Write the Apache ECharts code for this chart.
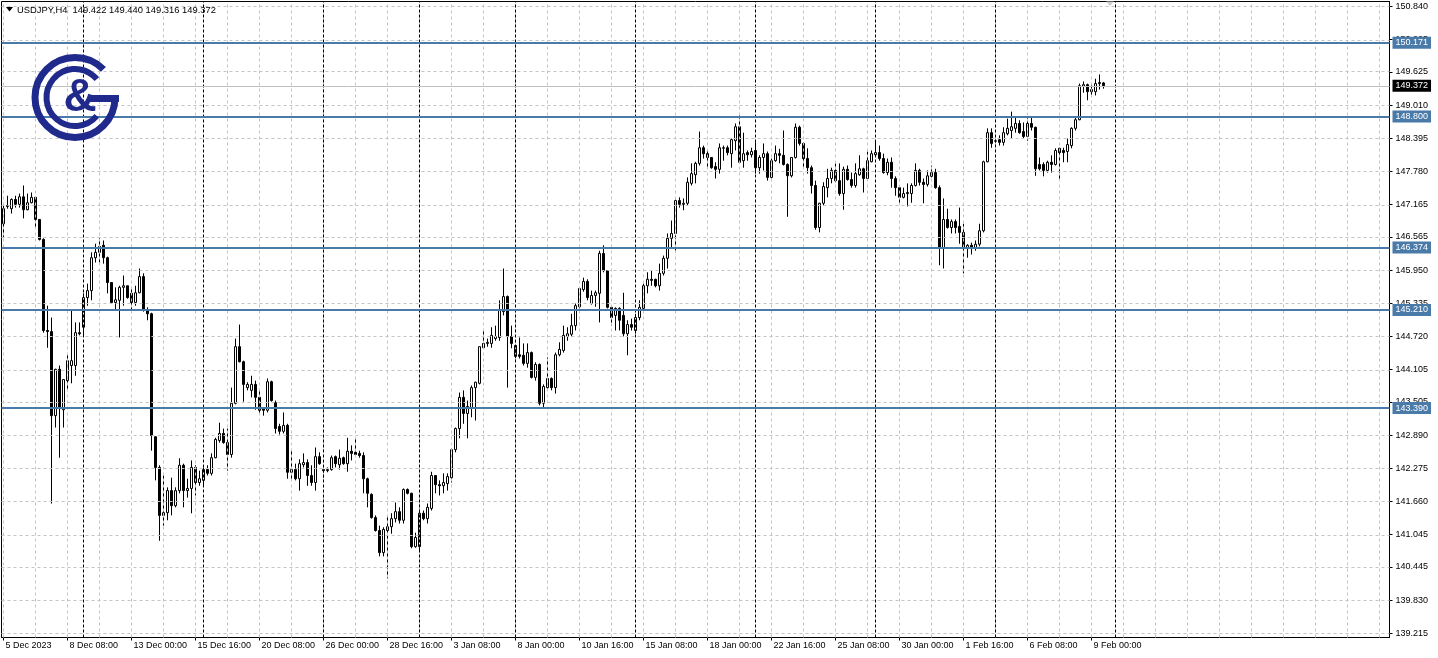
<!DOCTYPE html>
<html><head><meta charset="utf-8">
<script src="https://cdn.jsdelivr.net/npm/echarts@6/dist/echarts.min.js"></script>
<style>html,body{margin:0;padding:0;background:#fff;}#c{width:1438px;height:658px;}</style>
</head><body><div id="c"></div>
<script>
// ---- data: H4 candles [open, close, low, high] ----
const wk1 = [[146.81,147.09,146.55,147.19],[147.13,147.15,147.09,147.33],[147.09,147.26,147.00,147.28],[147.26,147.17,147.11,147.33],[147.17,147.31,147.11,147.37],[147.31,147.07,146.91,147.52],[147.07,147.20,147.06,147.37],[147.20,147.30,147.19,147.39],[147.30,146.89,146.74,147.31],[146.89,146.52,146.50,146.89],[146.52,144.83,144.79,146.54],[144.83,144.81,144.51,145.29],[144.81,143.25,141.62,145.07],[143.25,144.11,143.03,144.12],[144.11,143.38,142.47,144.18],[143.36,143.92,143.03,143.93],[143.90,144.27,143.72,144.40],[144.18,144.27,143.85,145.20],[144.18,144.79,143.99,144.98],[144.79,144.77,144.74,144.98]];
const wk2 = [[144.89,145.44,144.74,145.52],[145.44,145.57,145.29,145.70],[145.57,146.18,145.39,146.28],[146.18,146.28,146.09,146.44],[146.28,146.39,146.09,146.55],[146.41,146.18,146.07,146.50],[146.18,145.72,145.52,146.20],[145.72,145.35,145.33,145.72],[145.35,145.40,145.20,145.63],[145.39,145.63,144.70,145.66],[145.63,145.66,145.29,145.85],[145.66,145.44,145.42,145.66],[145.52,145.35,145.16,145.61],[145.35,145.53,145.29,145.66],[145.53,145.83,145.52,145.98],[145.83,145.20,145.18,145.89],[145.20,145.14,145.02,145.26],[145.14,142.88,142.60,145.16],[142.86,142.29,142.05,142.86],[142.29,141.40,140.93,142.33],[141.40,141.45,141.21,142.14],[141.45,141.86,141.31,141.92],[141.86,141.58,141.40,142.10],[141.58,141.86,141.55,141.92],[141.86,142.33,141.81,142.46],[142.33,141.86,141.55,142.36],[141.86,141.90,141.73,142.08],[141.90,142.29,141.44,142.42],[142.29,142.01,141.77,142.33],[142.01,142.08,141.95,142.23]];
const wk3 = [[142.05,142.25,141.95,142.29],[142.25,142.18,142.14,142.33],[142.18,142.47,142.14,142.55],[142.47,142.81,142.46,142.84],[142.79,142.92,142.75,143.12],[142.92,142.75,142.73,143.01],[142.75,142.53,142.23,143.01],[142.53,143.48,142.47,143.77],[143.48,144.53,143.46,144.68],[144.53,144.25,144.24,144.94],[144.25,143.83,143.51,144.27],[143.77,143.83,143.72,143.87],[143.72,143.83,143.59,143.99],[143.83,143.59,143.36,143.90],[143.59,143.35,143.29,143.74],[143.40,143.35,143.25,143.40],[143.35,143.88,143.31,143.94],[143.88,143.53,143.51,143.90],[143.49,143.01,142.92,143.53],[143.05,142.96,142.90,143.10],[142.96,143.07,142.92,143.31],[143.07,142.20,142.08,143.10],[142.20,142.25,142.05,142.60],[142.25,142.08,142.05,142.36],[142.08,142.36,141.86,142.44],[142.34,142.38,142.29,142.55],[142.38,142.14,141.95,142.44],[142.14,142.01,141.95,142.33],[142.01,142.49,141.86,142.66],[142.49,142.36,142.34,142.57]];
const wk4 = [[142.25,142.23,142.10,142.33],[142.23,142.25,142.20,142.29],[142.25,142.47,142.23,142.51],[142.49,142.36,142.29,142.51],[142.34,142.46,142.25,142.62],[142.47,142.36,142.34,142.49],[142.36,142.59,142.21,142.84],[142.59,142.55,142.42,142.70],[142.57,142.53,142.51,142.83],[142.55,142.51,142.47,142.60],[142.51,142.08,141.81,142.57],[142.08,141.81,141.55,142.10],[141.79,141.36,141.34,141.81],[141.36,141.12,141.10,141.40],[141.12,140.71,140.64,141.21],[140.71,141.14,140.64,141.18],[141.12,141.19,140.23,141.40],[141.19,141.34,141.06,141.44],[141.34,141.47,141.27,141.64],[141.47,141.31,141.25,141.55],[141.31,141.88,141.25,141.90],[141.88,141.81,141.79,141.90],[141.81,140.82,140.79,141.82],[140.82,140.99,140.80,141.08]];
const wk5 = [[140.82,141.44,140.75,141.53],[141.44,141.34,141.31,141.49],[141.34,141.55,141.25,141.62],[141.53,142.14,141.49,142.21],[142.14,141.97,141.81,142.14],[141.97,141.95,141.77,142.05],[141.95,142.01,141.81,142.18],[141.99,142.12,141.86,142.18],[142.10,142.62,142.01,142.64],[142.62,143.01,142.57,143.03],[143.01,143.59,142.83,143.68],[143.59,143.29,143.10,143.72],[143.29,143.42,142.83,143.53],[143.40,143.77,143.22,143.81],[143.77,143.87,143.16,143.88],[143.85,144.53,143.83,144.53],[144.51,144.59,144.50,144.85],[144.59,144.61,144.53,144.68],[144.59,144.74,144.51,144.89],[144.68,144.72,144.64,144.92],[144.70,145.20,144.64,145.39],[145.18,145.46,145.11,145.98],[145.46,144.72,143.77,145.48],[144.72,144.59,144.50,144.92]];
const wk6 = [[144.55,144.35,144.31,144.55],[144.38,144.35,144.31,144.70],[144.37,144.22,144.18,144.59],[144.22,144.42,144.14,144.59],[144.42,143.96,143.94,144.44],[143.96,144.20,143.90,144.24],[144.20,143.48,143.44,144.22],[143.48,143.79,143.40,143.83],[143.77,143.94,143.75,144.33],[143.94,143.77,143.72,143.96],[143.77,144.38,143.66,144.42],[144.38,144.48,144.35,144.61],[144.46,144.74,144.42,144.92],[144.72,144.77,144.64,144.89],[144.76,144.92,144.72,145.14],[144.92,145.29,144.83,145.33],[145.27,145.61,145.24,145.63],[145.59,145.74,145.55,145.81],[145.74,145.44,145.39,145.78],[145.33,145.48,145.31,145.57],[145.48,145.53,145.27,145.57],[145.52,146.26,144.98,146.31],[146.26,145.94,145.91,146.41],[145.94,145.26,145.24,145.94],[145.26,145.07,144.92,145.29],[145.11,145.24,144.83,145.26],[145.24,145.02,144.83,145.26],[145.11,144.77,144.72,145.53],[144.77,144.94,144.37,145.02],[144.94,144.89,144.83,145.05]];
const wk7 = [[144.83,145.07,144.77,145.14],[145.07,145.26,145.02,145.39],[145.24,145.66,145.16,145.70],[145.66,145.78,145.52,145.91],[145.78,145.76,145.66,145.94],[145.78,145.66,145.63,145.79],[145.66,145.89,145.57,146.07],[145.89,146.17,145.85,146.22],[146.17,146.54,145.98,146.63],[146.54,146.63,146.35,146.87],[146.63,147.24,146.31,147.26],[147.24,147.17,147.11,147.30],[147.17,147.19,147.06,147.28],[147.19,147.58,147.15,147.67],[147.56,147.74,147.52,147.93],[147.72,147.93,147.56,147.96],[147.93,148.22,147.89,148.52],[148.22,148.11,148.02,148.26],[148.11,148.04,147.85,148.19],[148.04,147.85,147.83,148.04],[147.87,147.82,147.65,147.95],[147.82,148.22,147.74,148.30],[148.21,148.22,147.98,148.26],[148.22,148.13,148.08,148.26],[148.11,148.37,147.85,148.39],[148.35,148.61,148.17,148.67],[148.61,147.95,147.93,148.82],[147.98,148.11,147.85,148.50],[148.13,148.09,147.98,148.17],[148.09,148.15,148.04,148.22]];
const wk8 = [[148.17,147.85,147.74,148.32],[147.85,148.04,147.74,148.08],[148.04,148.11,147.80,148.30],[148.11,147.67,147.61,148.15],[147.67,147.98,147.65,148.02],[147.98,148.11,147.96,148.26],[148.11,148.08,147.93,148.20],[148.08,147.91,147.89,148.54],[147.91,147.70,146.94,147.93],[147.70,148.04,147.67,148.04],[148.04,148.60,148.02,148.67],[148.60,148.30,148.26,148.63],[148.30,148.02,147.85,148.32],[148.02,147.85,147.74,148.21],[147.85,147.52,147.37,147.89],[147.52,146.74,146.70,147.61],[146.74,147.19,146.65,147.20],[147.19,147.50,147.15,147.58],[147.48,147.65,147.30,147.83],[147.65,147.80,147.56,147.85],[147.80,147.61,147.58,147.93],[147.61,147.37,147.33,147.93],[147.37,147.82,147.07,147.87],[147.82,147.63,147.61,147.89],[147.63,147.52,147.48,147.76],[147.52,147.74,147.48,147.93],[147.72,147.83,147.70,148.08],[147.83,147.65,147.39,147.85],[147.65,147.98,147.61,148.15],[147.96,148.11,147.95,148.17]];
const wk9 = [[148.09,148.13,148.08,148.34],[148.13,148.02,147.98,148.26],[148.02,147.76,147.74,148.11],[147.76,147.95,147.71,148.02],[147.95,147.65,147.48,148.04],[147.65,147.48,147.33,147.69],[147.48,147.30,147.19,147.52],[147.30,147.37,147.28,147.48],[147.37,147.39,147.13,147.56],[147.37,147.52,147.20,147.56],[147.52,147.80,147.50,147.93],[147.80,147.58,147.52,147.83],[147.58,147.54,147.19,147.65],[147.54,147.70,147.50,147.80],[147.69,147.76,147.67,147.89],[147.76,147.48,147.46,147.83],[147.48,146.35,146.04,147.52],[146.35,146.89,145.98,147.28],[146.89,146.74,146.72,147.09],[146.74,146.85,146.63,146.89],[146.85,146.74,146.63,146.89],[146.76,146.65,146.44,147.11],[146.65,146.35,145.89,146.81],[146.35,146.41,146.18,146.43],[146.41,146.35,146.24,146.46],[146.35,146.43,146.31,146.50],[146.43,146.68,146.39,146.81],[146.68,147.96,146.65,147.98],[147.96,148.50,147.95,148.58],[148.50,148.30,148.22,148.58]];
const wk10 = [[148.34,148.35,148.24,148.45],[148.37,148.32,148.26,148.45],[148.32,148.50,148.26,148.60],[148.48,148.58,148.45,148.76],[148.54,148.61,148.39,148.89],[148.58,148.67,148.50,148.78],[148.67,148.50,148.48,148.73],[148.52,148.43,148.39,148.69],[148.43,148.67,148.35,148.78],[148.67,148.60,148.54,148.78],[148.60,147.83,147.70,148.61],[147.91,147.83,147.80,148.04],[147.91,147.80,147.69,147.95],[147.80,147.95,147.76,147.98],[147.95,147.91,147.76,148.08],[147.91,148.17,147.89,148.21],[148.21,148.13,147.63,148.22],[148.17,148.13,147.95,148.22],[148.15,148.28,147.95,148.39],[148.26,148.58,148.21,148.60],[148.58,148.74,148.54,148.78],[148.74,149.37,148.73,149.41],[149.36,149.39,149.24,149.45],[149.39,149.26,149.10,149.41],[149.26,149.30,149.19,149.41],[149.26,149.41,149.19,149.50],[149.41,149.43,149.30,149.58],[149.422,149.372,149.316,149.440]];

const tradingDays = ['5 Dec','6 Dec','7 Dec','8 Dec','11 Dec','12 Dec','13 Dec','14 Dec','15 Dec','18 Dec','19 Dec','20 Dec','21 Dec','22 Dec','26 Dec','27 Dec','28 Dec','29 Dec','2 Jan','3 Jan','4 Jan','5 Jan','8 Jan','9 Jan','10 Jan','11 Jan','12 Jan','15 Jan','16 Jan','17 Jan','18 Jan','19 Jan','22 Jan','23 Jan','24 Jan','25 Jan','26 Jan','29 Jan','30 Jan','31 Jan','1 Feb','2 Feb','5 Feb','6 Feb','7 Feb','8 Feb','9 Feb','12 Feb','13 Feb','14 Feb','15 Feb','16 Feb','19 Feb','20 Feb','21 Feb','22 Feb','23 Feb','26 Feb','27 Feb'];
const xTickLabels = ['5 Dec 2023','8 Dec 08:00','13 Dec 00:00','15 Dec 16:00','20 Dec 08:00','26 Dec 00:00','28 Dec 16:00','3 Jan 08:00','8 Jan 00:00','10 Jan 16:00','15 Jan 08:00','18 Jan 00:00','22 Jan 16:00','25 Jan 08:00','30 Jan 00:00','1 Feb 16:00','6 Feb 08:00','9 Feb 00:00'];
const yTickLabels = [150.840,150.225,149.625,149.010,148.395,147.780,147.165,146.565,145.950,145.335,144.720,144.105,143.505,142.890,142.275,141.660,141.045,140.445,139.830,139.215];
const levels = [150.171,148.800,146.374,145.210,143.390];
const lastPrice = 149.372;
const weekStarts = [20,50,80,104,128,158,188,218,248,278];
const title = 'USDJPY,H4  149.422 149.440 149.316 149.372';

// ---- build ----
const ohlc = [].concat(wk1,wk2,wk3,wk4,wk5,wk6,wk7,wk8,wk9,wk10);
const N = 347;
const categories = [];
tradingDays.forEach((d, k) => {
  for (let h = (k === 0 ? 16 : 0); h < 24; h += 4) categories.push(d + ' ' + String(h).padStart(2,'0') + ':00');
});
categories.length = N;

const FONT = '"Liberation Sans", Arial, sans-serif';
const gridLines = [];
for (let i = 0; i < N - 2; i += 8) gridLines.push({xAxis: i, lineStyle:{color:'#c4c4c4', type:[3,3], width:1}});
yTickLabels.forEach(v => gridLines.push({yAxis: v, lineStyle:{color:'#c4c4c4', type:[3,3], width:1}}));
weekStarts.forEach(i => gridLines.push({xAxis: i, lineStyle:{color:'#000', type:[3,2], width:1}}));
gridLines.push({yAxis: lastPrice, lineStyle:{color:'#c0c0c0', type:'solid', width:1},
  label:{show:true, position:'end', formatter: lastPrice.toFixed(3), color:'#fff', backgroundColor:'#000', padding:[2,3,1,3], fontSize:9, fontFamily:FONT, distance:3}});

const levelLines = levels.map(v => ({yAxis: v, lineStyle:{color:'#4a7aa8', type:'solid', width:2},
  label:{show:true, position:'end', formatter: v.toFixed(3), color:'#fff', backgroundColor:'#4a7aa8', padding:[2,3,1,3], fontSize:9, fontFamily:FONT, distance:3}}));

const navy = '#1f2a8c';
const chart = echarts.init(document.getElementById('c'), null, {renderer:'canvas'});
chart.setOption({
  animation:false,
  backgroundColor:'#fff',
  grid:{left:1.5, top:1.5, width:1388, height:636, show:true, borderColor:'#000', borderWidth:1},
  xAxis:{type:'category', data:categories, boundaryGap:true,
    axisLine:{show:true, lineStyle:{color:'#000'}},
    axisTick:{show:true, alignWithLabel:true, length:3, interval:(i)=> i % 16 === 0 && i <= 272, lineStyle:{color:'#000'}},
    axisLabel:{interval:(i)=> i % 16 === 0 && i <= 272, formatter:(v,i)=> xTickLabels[i/16] || '', align:'left',
      color:'#000', fontSize:9, fontFamily:FONT, margin:4, padding:[0,0,0,2]},
    splitLine:{show:false}},
  yAxis:{type:'value', position:'right', min:139.135, max:150.933,
    axisLine:{show:true, lineStyle:{color:'#000'}},
    axisTick:{show:true, customValues:yTickLabels, length:3, lineStyle:{color:'#000'}},
    axisLabel:{customValues:yTickLabels, formatter:(v)=> v.toFixed(3), color:'#000', fontSize:9, fontFamily:FONT, margin:6, padding:[3,0,0,0]},
    splitLine:{show:false}},
  series:[
    {type:'line', data:[], z:1, silent:true,
      markLine:{silent:true, symbol:['none','none'], animation:false, label:{show:false}, data:gridLines}},
    {type:'candlestick', data:ohlc, z:2, silent:true, barWidth:2,
      itemStyle:{color:'#fff', color0:'#000', borderColor:'#000', borderColor0:'#000', borderColorDoji:'#000', borderWidth:1}},
    {type:'line', data:[], z:3, silent:true,
      markLine:{silent:true, symbol:['none','none'], animation:false, data:levelLines}}
  ],
  graphic:{elements:[
    {type:'arc', z:100, zlevel:1, silent:true, shape:{cx:75, cy:97.5, r:40, startAngle:0, endAngle:Math.PI*2-0.78, clockwise:true}, style:{stroke:navy, lineWidth:7, fill:null}},
    {type:'arc', z:100, zlevel:1, silent:true, shape:{cx:75, cy:97.5, r:28.5, startAngle:0.70, endAngle:Math.PI*2-0.70, clockwise:true}, style:{stroke:navy, lineWidth:6, fill:null}},
    {type:'rect', z:100, zlevel:1, silent:true, shape:{x:89, y:95, width:30, height:7}, style:{fill:navy}},
    {type:'text', z:100, zlevel:1, silent:true, style:{text:'&', x:80, y:98, fill:navy, font:'bold 46px "Liberation Sans"', align:'center', verticalAlign:'middle'}},
    {type:'polygon', z:100, zlevel:1, silent:true, shape:{points:[[6,7],[13,7],[9.5,11.5]]}, style:{fill:'#000'}},
    {type:'text', z:100, zlevel:1, silent:true, style:{text:title, x:17, y:10, fill:'#000', font:'9.4px "Liberation Sans"', verticalAlign:'middle'}},
    {type:'polygon', z:100, zlevel:1, silent:true, shape:{points:[[1106,1.5],[1114,1.5],[1110,6]]}, style:{fill:'#cfcfcf'}}
  ]}
});
</script>
</body></html>
